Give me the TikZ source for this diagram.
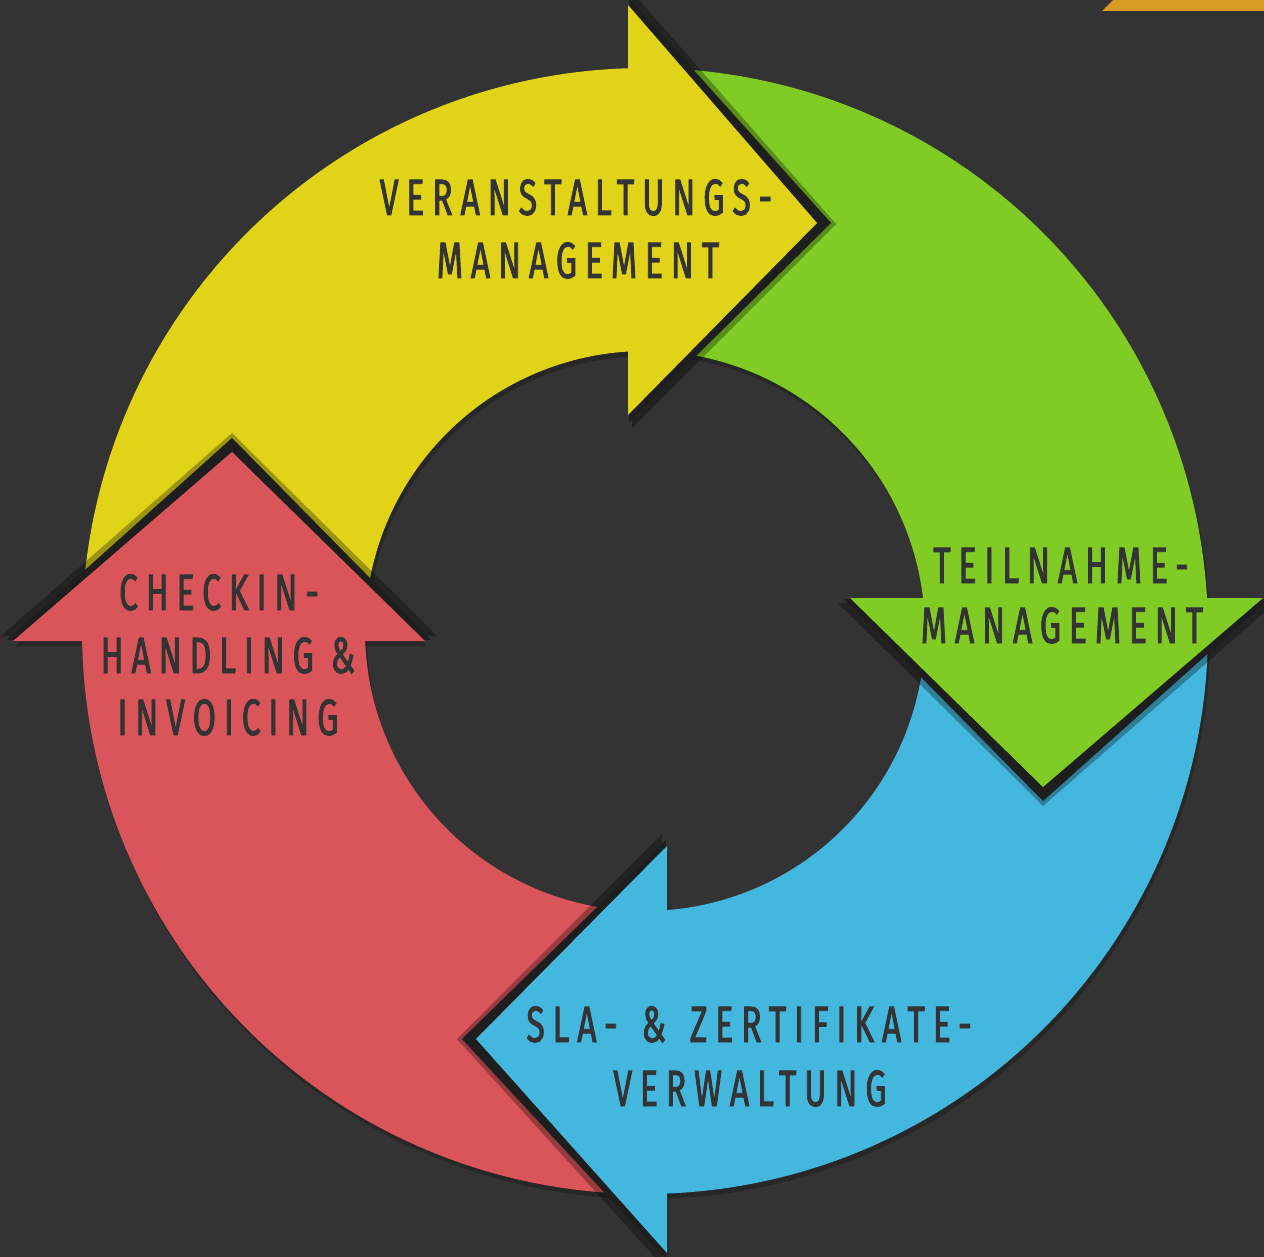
\documentclass[tikz,border=0pt]{standalone}
\usepackage{fontspec}
\setmainfont{Fira Sans}[FakeStretch=0.66,LetterSpace=15.5,FakeBold=1.6]
\definecolor{bgc}{HTML}{333333}
\definecolor{yc}{HTML}{E0D318}
\definecolor{gc}{HTML}{80CC25}
\definecolor{bc}{HTML}{43B7DD}
\definecolor{rc}{HTML}{D95559}
\definecolor{oc}{HTML}{D99A22}
\definecolor{txt}{HTML}{333333}
\definecolor{shd}{HTML}{1E1E1E}
\newcommand\ringpart[5]{\fill[#1] plot[domain=#2:#3,samples=90] ({645+563*cos(\x)},{631+563*sin(\x)}) -- plot[domain=#4:#5,samples=90] ({645+280*cos(\x)},{631+280*sin(\x)}) -- cycle;}
\newcommand\tri[4]{\fill[#1] #2 -- #3 -- #4 -- cycle;}
\begin{document}
\begin{tikzpicture}[x=1pt,y=-1pt,
  lbl/.style={text=txt,font=\fontsize{51}{60}\selectfont,inner sep=0pt,anchor=base}]
\useasboundingbox (0,0) rectangle (1264,1257);
\fill[bgc] (0,0) rectangle (1264,1257);
\fill[oc] (1102,11) -- (1113,0) -- (1264,0) -- (1264,11) -- cycle;
% soft drop shadows
\begin{scope}[shift={(2,5)}]
  \ringpart{black,opacity=0.22}{178.98}{268.27}{266.52}{177.95}
  \ringpart{black,opacity=0.22}{268.27}{356.64}{353.23}{266.52}
  \ringpart{black,opacity=0.22}{356.64}{447.76}{445.49}{353.23}
  \ringpart{black,opacity=0.22}{87.76}{178.98}{177.95}{85.49}
  \tri{black,opacity=0.22}{(628,5)}{(817,223)}{(628,415)}
  \tri{black,opacity=0.22}{(850,598)}{(1263,598)}{(1043,787)}
  \tri{black,opacity=0.22}{(667,846)}{(476,1039)}{(667,1253)}
  \tri{black,opacity=0.22}{(13,641)}{(232,452)}{(425,641)}
\end{scope}
% ring bodies (both ends tucked under the arrow heads)
\ringpart{yc}{179.8}{270.0}{268.5}{179.5}
\ringpart{gc}{269.5}{358.4}{355.2}{269.0}
\ringpart{bc}{358.0}{449.5}{447.5}{357.0}
\ringpart{rc}{89.0}{180.7}{179.9}{88.0}
% head glows
\tri{black,opacity=0.3}{(632,-8)}{(836,224)}{(632,428)}
\tri{shd}{(629,-2)}{(831,223)}{(629,422)}
\tri{black,opacity=0.3}{(838,603)}{(1275,603)}{(1043,806)}
\tri{shd}{(844,599)}{(1269,599)}{(1043,801)}
\tri{black,opacity=0.3}{(662,834)}{(662,1265)}{(457,1039)}
\tri{shd}{(666,840)}{(666,1259)}{(462,1039)}
\tri{black,opacity=0.3}{(1,636)}{(437,636)}{(232,433)}
\tri{shd}{(7,640)}{(431,640)}{(232,438)}
% heads
\tri{yc}{(628,5)}{(817,223)}{(628,415)}
\tri{gc}{(850,598)}{(1263,598)}{(1043,787)}
\tri{bc}{(667,846)}{(476,1039)}{(667,1253)}
\tri{rc}{(13,641)}{(232,452)}{(425,641)}
% labels
\node[lbl] (y1) at (576,215) {VERANSTALTUNGS-};
\node[lbl] (y2) at (578,278) {MANAGEMENT};
\node[lbl] (g1) at (1061,583) {TEILNAHME-};
\node[lbl] (g2) at (1062,643) {MANAGEMENT};
\node[lbl] (b1) at (749,1042) {SLA-\kern7pt{} \&\kern7pt{} ZERTIFIKATE-};
\node[lbl] (b2) at (750,1106) {VERWALTUNG};
\node[lbl] (r1) at (219,610) {CHECKIN-};
\node[lbl] (r2) at (228,673) {HANDLING \&};
\node[lbl] (r3) at (228,735) {INVOICING};
\end{tikzpicture}
\end{document}
